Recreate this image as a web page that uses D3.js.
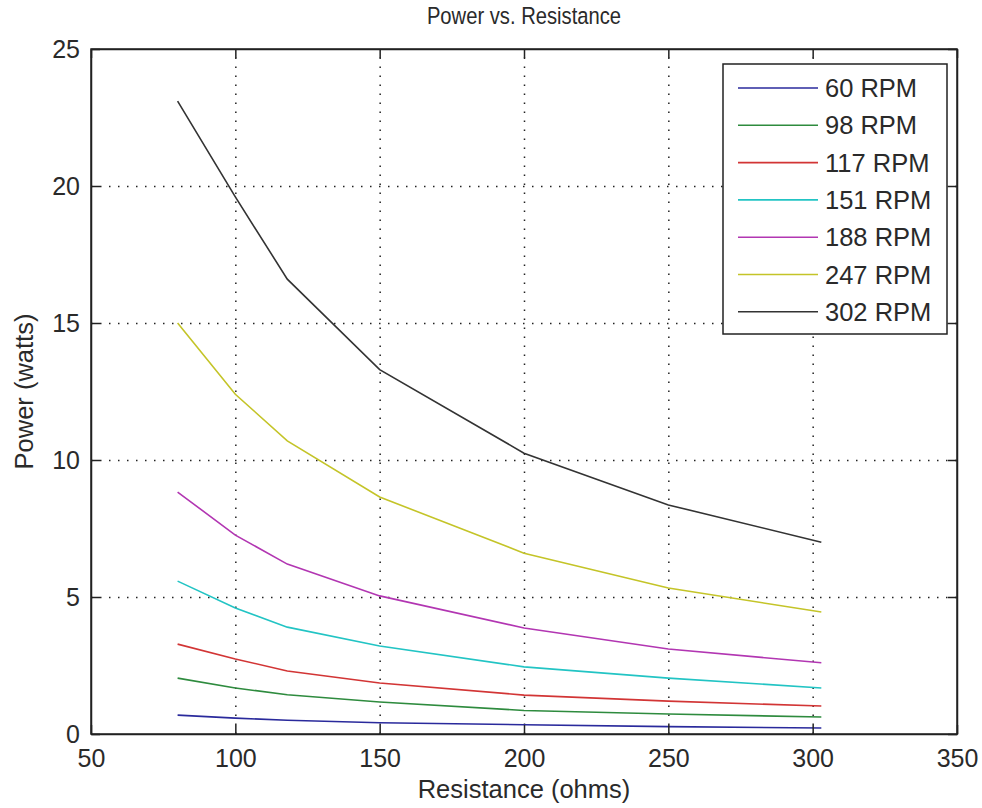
<!DOCTYPE html>
<html>
<head>
<meta charset="utf-8">
<style>
body { margin: 0; background: #fff; }
text { font-family: "Liberation Sans", Arial, sans-serif; fill: #2a2a2a; }
.grid line { stroke: #222; stroke-width: 1.5; stroke-dasharray: 1.5,7.5; }
.grid path { display: none; }
.axis path, .axis line { stroke: #222; stroke-width: 1.5; fill: none; }
</style>
</head>
<body>
<svg width="982" height="808"></svg>
<script src="https://d3js.org/d3.v7.min.js"></script>
<script>
// resistance values (ohms)
var resistance = [80, 100, 118, 150, 200, 250, 303];

var seriesNames = ["60 RPM", "98 RPM", "117 RPM", "151 RPM", "188 RPM", "247 RPM", "302 RPM"];

var p60  = [0.69, 0.58, 0.50, 0.41, 0.34, 0.27, 0.22];
var p98  = [2.04, 1.68, 1.43, 1.17, 0.86, 0.73, 0.62];
var p117 = [3.28, 2.74, 2.30, 1.86, 1.42, 1.20, 1.02];
var p151 = [5.58, 4.60, 3.90, 3.21, 2.45, 2.04, 1.68];
var p188 = [8.83, 7.26, 6.20, 5.04, 3.87, 3.10, 2.60];
var p247 = [15.0, 12.4, 10.7, 8.65, 6.60, 5.33, 4.45];
var p302 = [23.1, 19.6, 16.6, 13.3, 10.25, 8.36, 7.0];

var xTicks = [50, 100, 150, 200, 250, 300, 350];
var yTicks = [0, 5, 10, 15, 20, 25];

var colors = ["#2a2a9c", "#2e8b3e", "#d23535", "#22c4c4", "#b236b2", "#c4c428", "#333333"];

var series = [p60, p98, p117, p151, p188, p247, p302];

var svg = d3.select("svg"),
    margin = {top: 49, right: 25, bottom: 74, left: 91},
    width = +svg.attr("width") - margin.left - margin.right,
    height = +svg.attr("height") - margin.top - margin.bottom,
    g = svg.append("g").attr("transform", "translate(" + margin.left + "," + margin.top + ")");

var x = d3.scaleLinear().domain([50, 350]).range([0, width]);
var y = d3.scaleLinear().domain([0, 25]).range([height, 0]);

// grid
g.append("g")
    .attr("class", "grid")
    .attr("transform", "translate(0," + height + ")")
    .call(d3.axisBottom(x).tickValues(xTicks.slice(1, -1)).tickSize(-height).tickFormat(""));
g.append("g")
    .attr("class", "grid")
    .call(d3.axisLeft(y).tickValues(yTicks.slice(1, -1)).tickSize(-width).tickFormat(""));

// lines
var line = d3.line()
    .x(function(d, i) { return x(resistance[i]); })
    .y(function(d) { return y(d); });

g.selectAll(".series")
  .data(series)
  .enter().append("path")
    .attr("class", "series")
    .attr("fill", "none")
    .attr("stroke", function(d, i) { return colors[i]; })
    .attr("stroke-width", 1.6)
    .attr("d", line);

// axes with inward ticks on all four sides
var bottom = g.append("g").attr("class", "axis")
    .attr("transform", "translate(0," + height + ")")
    .call(d3.axisBottom(x).tickValues(xTicks).tickSizeInner(-9).tickSizeOuter(0).tickPadding(15));
bottom.selectAll("text").attr("font-size", 25).attr("fill", "#2a2a2a");

var left = g.append("g").attr("class", "axis")
    .call(d3.axisLeft(y).tickValues(yTicks).tickSizeInner(-9).tickSizeOuter(0).tickPadding(11));
left.selectAll("text").attr("font-size", 25).attr("fill", "#2a2a2a");

g.append("g").attr("class", "axis")
    .call(d3.axisTop(x).tickValues(xTicks).tickSizeInner(-9).tickSizeOuter(0).tickFormat(""));
g.append("g").attr("class", "axis")
    .attr("transform", "translate(" + width + ",0)")
    .call(d3.axisRight(y).tickValues(yTicks).tickSizeInner(-9).tickSizeOuter(0).tickFormat(""));

g.append("rect")
    .attr("width", width)
    .attr("height", height)
    .attr("fill", "none")
    .attr("stroke", "#222")
    .attr("stroke-width", 1.5);

// title (slightly condensed, like the original font) and labels
svg.append("text")
    .attr("transform", "translate(" + (margin.left + width / 2) + ",24) scale(0.86,1)")
    .attr("text-anchor", "middle")
    .attr("font-size", 23.5)
    .text("Power vs. Resistance");

svg.append("text")
    .attr("x", margin.left + width / 2)
    .attr("y", 798)
    .attr("text-anchor", "middle")
    .attr("font-size", 25.5)
    .text("Resistance (ohms)");

svg.append("text")
    .attr("transform", "translate(33," + (margin.top + height / 2) + ") rotate(-90)")
    .attr("text-anchor", "middle")
    .attr("font-size", 25.5)
    .text("Power (watts)");

// legend
var lg = svg.append("g").attr("transform", "translate(723,64)");
lg.append("rect")
    .attr("width", 224)
    .attr("height", 270)
    .attr("fill", "#fff")
    .attr("stroke", "#222")
    .attr("stroke-width", 1.5);

var item = lg.selectAll(".item")
  .data(seriesNames)
  .enter().append("g")
    .attr("class", "item")
    .attr("transform", function(d, i) { return "translate(0," + (24 + i * 37.3) + ")"; });

item.append("line")
    .attr("x1", 15).attr("x2", 95)
    .attr("stroke", function(d, i) { return colors[i]; })
    .attr("stroke-width", 1.6);

item.append("text")
    .attr("x", 102)
    .attr("dy", "0.36em")
    .attr("font-size", 25.5)
    .text(function(d) { return d; });
</script>
</body>
</html>
